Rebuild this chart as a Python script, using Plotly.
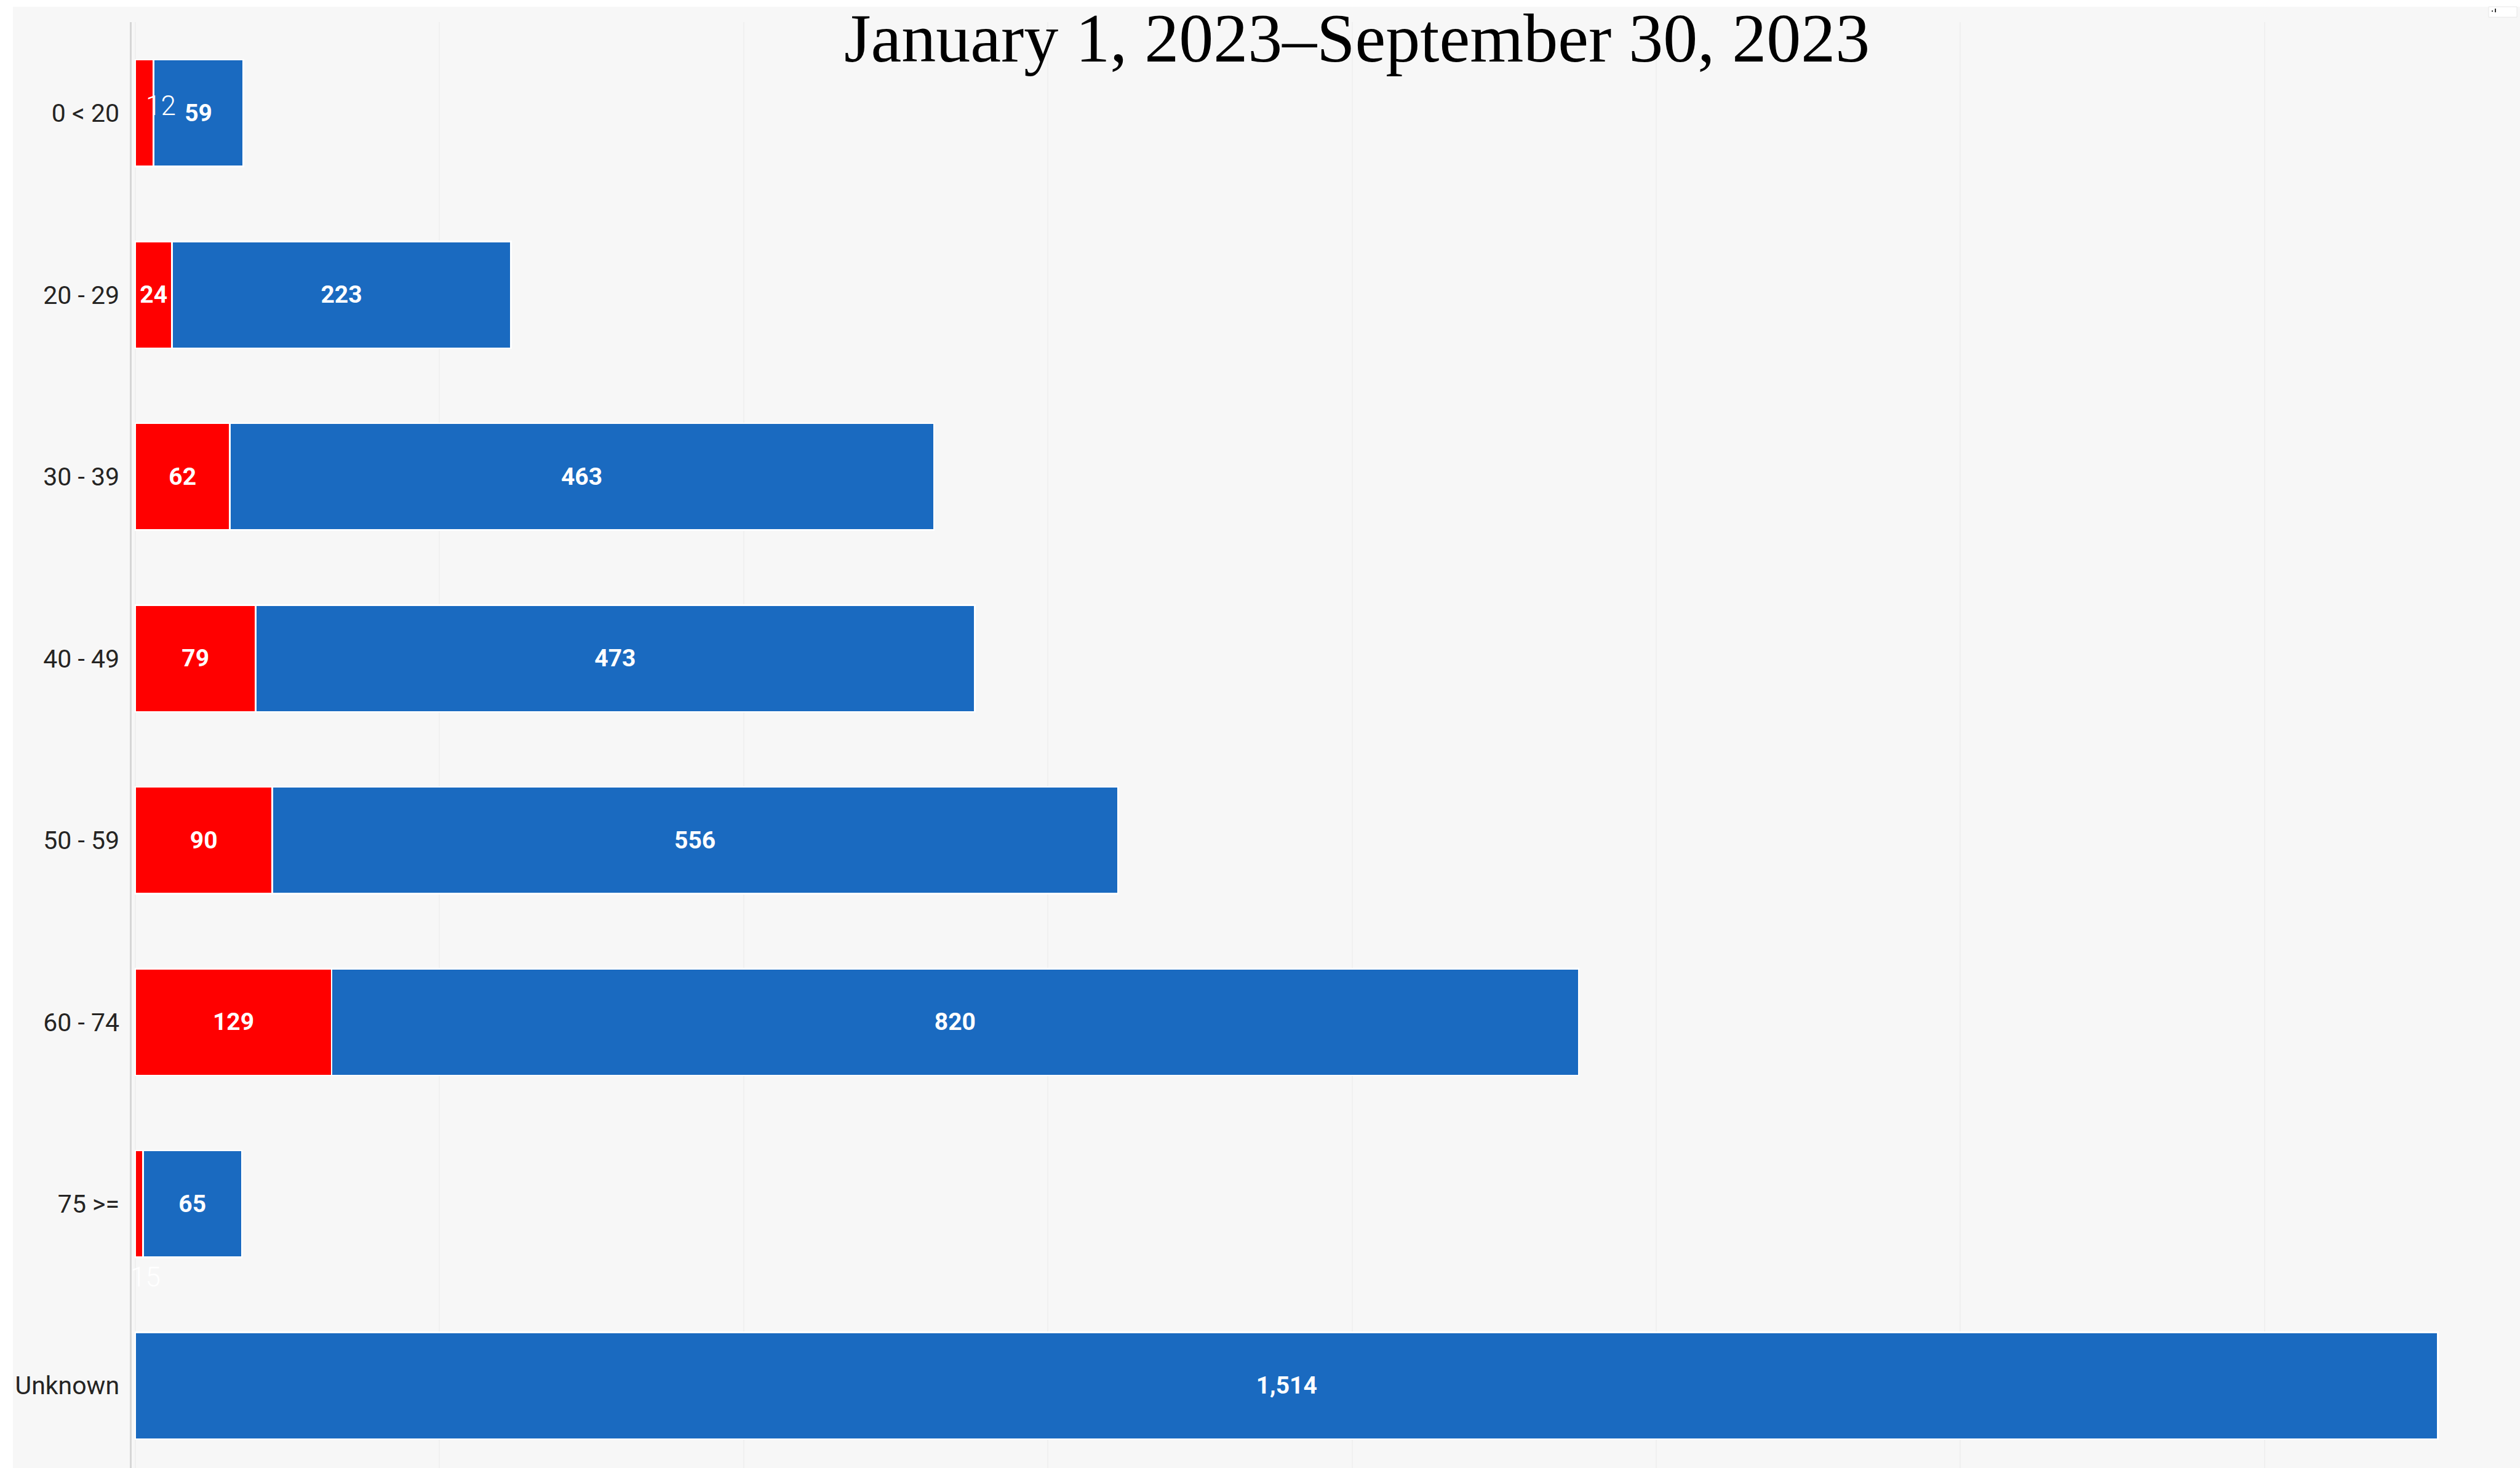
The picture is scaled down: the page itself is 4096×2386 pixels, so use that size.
import plotly.graph_objects as go

# ---- data ----
categories = ["0 < 20", "20 - 29", "30 - 39", "40 - 49", "50 - 59", "60 - 74", "75 >=", "Unknown"]
red_values = [12, 24, 62, 79, 90, 129, 5, None]
blue_values = [59, 223, 463, 473, 556, 820, 65, 1514]
red_inside_labels = ["", "24", "62", "79", "90", "129", "", ""]
blue_labels = [f"{v:,}" for v in blue_values]
# thin overlay labels (category, text)
thin_label_cats = ["0 < 20", "75 >="]
thin_label_text = ["12", "15"]
title_text = "January 1, 2023\u2013September 30, 2023"
x_ticks = [0, 200, 400, 600, 800, 1000, 1200, 1400]

W, H = 4096, 2386
L, R, T, B = 214, 0, 36, 0
PW, PH = W - L - R, H - T - B

RED = "#FF0000"
BLUE = "#1A6AC0"
BG = "#F7F7F7"

fig = go.Figure()

fig.add_trace(go.Bar(
    y=categories, x=red_values, orientation="h", name="red",
    marker=dict(color=RED, line=dict(color="#FFFFFF", width=2.5)),
    text=red_inside_labels, textposition="inside", insidetextanchor="middle",
    textangle=0, constraintext="none",
    textfont=dict(family="Roboto", size=39, color="white", weight="bold"),
    hoverinfo="skip",
))
fig.add_trace(go.Bar(
    y=categories, x=blue_values, orientation="h", name="blue",
    marker=dict(color=BLUE, line=dict(color="#FFFFFF", width=2.5)),
    text=blue_labels, textposition="inside", insidetextanchor="middle",
    textangle=0, constraintext="none",
    textfont=dict(family="Roboto", size=39, color="white", weight="bold"),
    hoverinfo="skip",
))

# thin white overlay labels
shifts = {"0 < 20": (12, 12), "75 >=": (4, -119)}
for cat, txt in zip(thin_label_cats, thin_label_text):
    i = categories.index(cat)
    xs, ys = shifts[cat]
    fig.add_annotation(
        x=red_values[i], y=cat, xref="x", yref="y", text=txt, showarrow=False,
        xanchor="center", yanchor="middle", xshift=xs, yshift=ys,
        font=dict(family="Roboto", size=44, color="white", weight=300),
    )

# title
fig.add_annotation(
    x=(2205 - L) / PW, y=1 - (62 - T) / PH, xref="paper", yref="paper",
    text=title_text, showarrow=False, xanchor="center", yanchor="middle",
    font=dict(family="Liberation Serif", size=112, color="black"),
)

# gray panel background
fig.add_shape(type="rect", xref="paper", yref="paper",
              x0=(21 - L) / PW, x1=1.01, y0=-0.01, y1=1 - (11 - T) / PH,
              fillcolor=BG, line=dict(width=0), layer="below")
# small header icon box top-right
fig.add_shape(type="rect", xref="paper", yref="paper",
              x0=(4045 - L) / PW, x1=(4091 - L) / PW,
              y0=1 - (28 - T) / PH, y1=1 - (11 - T) / PH,
              fillcolor="white", line=dict(color="#E6E6E6", width=1), layer="above")
fig.add_shape(type="rect", xref="paper", yref="paper",
              x0=(4055 - L) / PW, x1=(4057 - L) / PW,
              y0=1 - (20 - T) / PH, y1=1 - (14 - T) / PH,
              fillcolor="#333333", line=dict(width=0), layer="above")
fig.add_shape(type="rect", xref="paper", yref="paper",
              x0=(4050 - L) / PW, x1=(4052 - L) / PW,
              y0=1 - (19 - T) / PH, y1=1 - (17 - T) / PH,
              fillcolor="#333333", line=dict(width=0), layer="above")

fig.update_layout(
    width=W, height=H,
    margin=dict(l=L, r=R, t=T, b=B, pad=0, autoexpand=False),
    paper_bgcolor="white", plot_bgcolor="rgba(0,0,0,0)",
    barmode="stack", bargap=0.412,
    showlegend=False,
    xaxis=dict(range=[-2.43, 1568.0], tickvals=x_ticks, showticklabels=False,
               showgrid=True, gridcolor="#F0F0F0", gridwidth=2, zeroline=False,
               showline=False, fixedrange=True),
    yaxis=dict(range=[7.453, -0.5], showgrid=False, zeroline=False,
               showline=True, linecolor="#D6D6D6", linewidth=2.5,
               ticks="", ticklabelstandoff=9,
               tickfont=dict(family="Roboto", size=41, color="#252423"),
               automargin=False, fixedrange=True),
)

fig.write_html("out.html")
